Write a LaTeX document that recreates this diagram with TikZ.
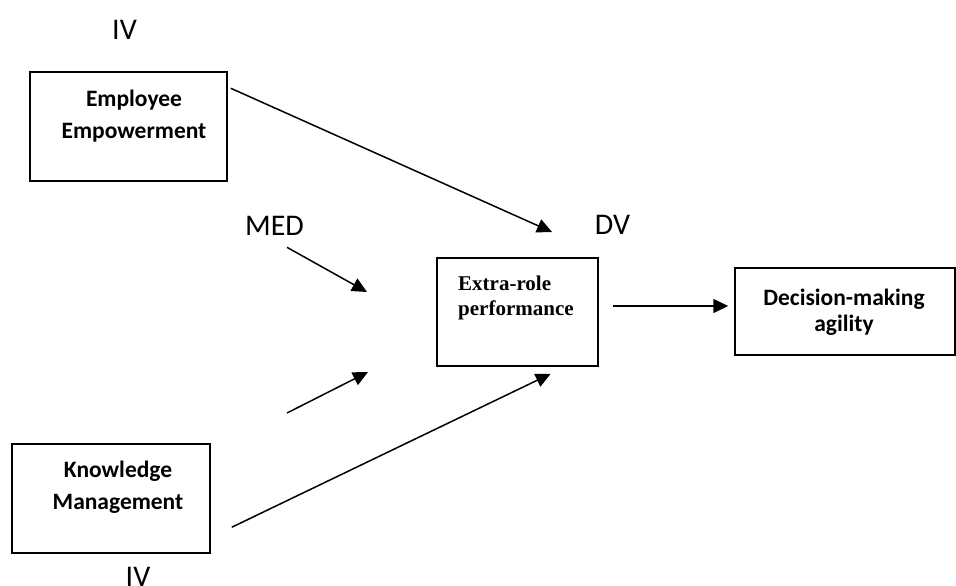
\documentclass[tikz,border=0pt]{standalone}
\usepackage{fontspec}
\setmainfont{Carlito}
\newfontfamily\timesfont{Liberation Serif}
\usetikzlibrary{arrows.meta,calc}
\tikzset{
  box/.style={draw, line width=1.5pt, inner sep=0pt, rectangle},
  boxtext/.style={inner sep=0pt, align=center, font=\fontsize{23.5pt}{32pt}\selectfont\bfseries},
  lbl/.style={inner sep=0pt, font=\fontsize{30pt}{34pt}\selectfont},
  arr/.style={line width=1.5pt, -{Triangle[length=15pt,width=14pt]}}
}
\begin{document}
\begin{tikzpicture}[x=1pt,y=-1pt]
\useasboundingbox (0,0) rectangle (956,586);
% boxes
\node[box, minimum width=197pt, minimum height=109pt] (emp) at (128.5,126.5) {};
\node[box, minimum width=161pt, minimum height=108pt] (erp) at (517.5,312) {};
\node[box, minimum width=220pt, minimum height=87pt] (dma) at (845,311.5) {};
\node[box, minimum width=198pt, minimum height=109pt] (km) at (111,498.5) {};
% box texts
\node[boxtext] (empt) at (134,116) {Employee\\Empowerment};
\node[boxtext] (kmt) at (118,487.6) {Knowledge\\Management};
\node[boxtext, font=\fontsize{23.5pt}{26pt}\selectfont\bfseries] (dmat) at (844,312) {Decision-making\\agility};
\node[inner sep=0pt, align=left, anchor=west, font=\fontsize{21pt}{25pt}\selectfont\timesfont\bfseries] (erpt) at (458,297.7) {Extra-role\\performance};
% labels
\node[lbl] (ivtop) at (124.5,30) {IV};
\node[lbl] (med) at (274.5,225.5) {MED};
\node[lbl] (dv) at (612.5,224.5) {DV};
\node[lbl] (ivbot) at (138,577) {IV};
% free ends
\coordinate (t1) at (552,232);
\coordinate (t2) at (367,292);
\coordinate (s3) at (287,413);
\coordinate (t3) at (368,372);
% connectors
\draw[arr] ($(emp.north east)+(3,17)$) -- (t1);
\draw[arr] ($(med.south)+(12.5,12)$) -- (t2);
\draw[arr] (s3) -- (t3);
\draw[arr] ($(km.north east)+(21,84)$) -- ($(erp.south east)+(-48,7)$);
\draw[arr] ($(erp.east)+(14,-6)$) -- ($(dma.west)+(-6,-5.5)$);
\end{tikzpicture}
\end{document}
